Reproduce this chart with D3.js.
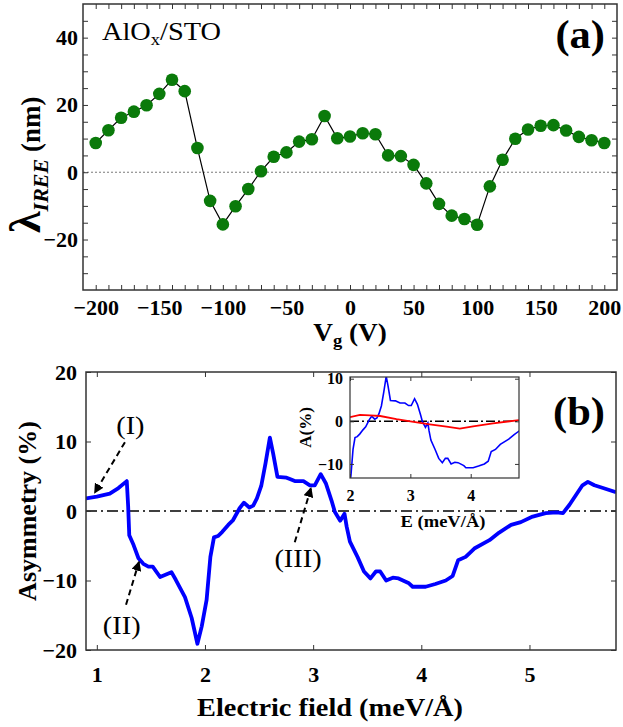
<!DOCTYPE html>
<html>
<head>
<meta charset="utf-8">
<script src="https://cdn.jsdelivr.net/npm/d3@7"></script>
<style>
  body { margin: 0; background: #fff; }
  text { font-family: "Liberation Serif", "Times New Roman", serif; }
  .tick text { font-weight: bold; fill: #000; }
  .domain { display: none; }
</style>
</head>
<body>
<div id="chart"></div>
<script>
// ---- panel (a): lambda_IREE vs gate voltage ----
const gateV = [-200, -190, -180, -170, -160, -150, -140, -130, -120, -110, -100, -90, -80, -70, -60, -50, -40, -30, -20, -10,
  0, 10, 20, 30, 40, 50, 60, 70, 80, 90, 100, 110, 120, 130, 140, 150, 160, 170, 180, 190, 200];
const lambdaIREE = [8.7, 12.5, 16.2, 18.0, 19.9, 23.3, 27.5, 24.1, 7.2, -8.5, -15.5, -10.1, -5.0, 0.3, 4.6, 5.9, 9.1, 9.8, 16.7, 10.1,
  10.6, 11.6, 11.3, 5.0, 4.8, 2.2, -3.3, -9.4, -12.9, -13.9, -15.6, -4.2, 3.7, 9.95, 12.7, 13.8, 14.0, 12.4, 10.5, 9.5, 8.7];
const aXTicks = [-200, -150, -100, -50, 0, 50, 100, 150, 200];
const aYTicks = [-20, 0, 20, 40];

// ---- panel (b): asymmetry vs electric field ----
const fieldE = [0.9, 1.0, 1.12, 1.2, 1.277, 1.29, 1.30, 1.34, 1.385, 1.43, 1.477, 1.517, 1.585, 1.69, 1.73, 1.815, 1.877, 1.93, 1.97, 2.015,
  2.05, 2.083, 2.12, 2.16, 2.215, 2.26, 2.32, 2.36, 2.41, 2.446, 2.48, 2.52, 2.56, 2.6, 2.63, 2.67, 2.754, 2.785, 2.83, 2.91,
  2.97, 3.015, 3.07, 3.117, 3.17, 3.2, 3.25, 3.29, 3.31, 3.34, 3.41, 3.47, 3.53, 3.58, 3.62, 3.675, 3.737, 3.79, 3.886, 3.92,
  4.04, 4.13, 4.226, 4.29, 4.34, 4.41, 4.49, 4.63, 4.72, 4.83, 4.92, 5.03, 5.15, 5.25, 5.31, 5.37, 5.43, 5.49, 5.54, 5.6, 5.68, 5.8];
const asym = [1.8, 2.06, 2.5, 3.3, 4.3, 0.6, -3.5, -4.9, -6.8, -7.6, -8.0, -8.0, -9.5, -8.8, -9.9, -12.4, -15.4, -19.1, -16.6, -12.8,
  -6.6, -3.8, -3.6, -3.0, -2.0, -1.3, 0.4, 1.2, 0.5, 0.77, 1.8, 3.6, 6.9, 10.55, 8.3, 4.9, 4.8, 4.6, 4.3, 4.3,
  3.7, 3.7, 5.3, 4.0, 1.5, -0.1, -1.4, -0.4, -2.25, -4.4, -6.6, -8.7, -9.7, -8.7, -8.7, -10.0, -9.6, -9.7, -10.4, -10.9,
  -10.9, -10.5, -10.0, -9.35, -7.1, -6.6, -5.4, -4.2, -3.1, -2.0, -1.6, -0.8, -0.3, -0.2, -0.3, 0.9, 2.3, 3.7, 4.2, 3.7, 3.3, 2.7];
const bXTicks = [1, 2, 3, 4, 5];
const bYTicks = [-20, -10, 0, 10, 20];

// inset: red curve (blue one reuses the main data)
const redE = [2.0, 2.165, 2.33, 2.5, 2.77, 3.0, 3.32, 3.6, 3.82, 4.04, 4.37, 4.8];
const redA = [1.0, 1.5, 1.4, 1.25, 0.5, 0, -0.7, -1.25, -1.7, -1.2, -0.5, 0.3];
const insetXTicks = [2, 3, 4];
const insetYTicks = [-10, 0, 10];

// arrow labels, in data units of panel (b)
const notes = [
  { label: "(I)", tx: 1.31, ty: 12.4, x1: 1.26, y1: 9.9, x2: 0.98, y2: 2.6 },
  { label: "(II)", tx: 1.23, ty: -16.4, x1: 1.27, y1: -13.5, x2: 1.39, y2: -7.3 },
  { label: "(III)", tx: 2.86, ty: -6.8, x1: 2.83, y1: -4.5, x2: 2.98, y2: 3.3 }
];

const width = 623;
const height = 727;
const sx = 1.09; // the original figure is a bit wider than tall

const svg = d3.select("#chart")
  .append("svg")
  .attr("width", width)
  .attr("height", height);

svg.append("defs")
  .append("marker")
  .attr("id", "arrow")
  .attr("viewBox", "0 0 10 10")
  .attr("refX", 9)
  .attr("refY", 5)
  .attr("markerWidth", 5)
  .attr("markerHeight", 5)
  .attr("orient", "auto")
  .append("path")
  .attr("d", "M0,0 L10,5 L0,10 Z")
  .attr("fill", "#000");

function label(g, x, y, size, bold) {
  return g.append("text")
    .attr("transform", `translate(${x},${y}) scale(${sx},1)`)
    .style("font-size", size + "px")
    .style("font-weight", bold ? "bold" : "normal");
}

// draws inside ticks on all four sides of a box
function frame(g, x, y, opts) {
  const [x0, x1] = x.range();
  const [y1, y0] = y.range();
  const ts = opts.tick || 5;
  const fs = opts.fontSize;

  const bottom = g.append("g").attr("transform", `translate(0,${y1})`)
    .call(d3.axisBottom(x).tickValues(opts.xTicks).tickSize(-ts).tickPadding(opts.xPad)
      .tickFormat(d3.format("d")));
  bottom.selectAll("text").style("font-size", fs + "px");
  g.append("g").attr("transform", `translate(0,${y0})`)
    .call(d3.axisTop(x).tickValues(opts.xTicks).tickSize(-ts).tickFormat(""));

  const left = g.append("g").attr("transform", `translate(${x0},0)`)
    .call(d3.axisLeft(y).tickValues(opts.yTicks).tickSize(-ts).tickPadding(opts.yPad)
      .tickFormat(d3.format("d")));
  left.selectAll("text").style("font-size", fs + "px");
  g.append("g").attr("transform", `translate(${x1},0)`)
    .call(d3.axisRight(y).tickValues(opts.yTicks).tickSize(-ts).tickFormat(""));

  if (opts.xMinor) {
    g.append("g").attr("transform", `translate(0,${y1})`)
      .call(d3.axisBottom(x).tickValues(opts.xMinor).tickSize(-ts).tickFormat(""));
    g.append("g").attr("transform", `translate(0,${y0})`)
      .call(d3.axisTop(x).tickValues(opts.xMinor).tickSize(-ts).tickFormat(""));
  }
  if (opts.yMinor) {
    g.append("g").attr("transform", `translate(${x0},0)`)
      .call(d3.axisLeft(y).tickValues(opts.yMinor).tickSize(-ts).tickFormat(""));
    g.append("g").attr("transform", `translate(${x1},0)`)
      .call(d3.axisRight(y).tickValues(opts.yMinor).tickSize(-ts).tickFormat(""));
  }
  g.selectAll(".tick line").attr("stroke", "#333").attr("stroke-width", 1);

  g.append("rect")
    .attr("x", x0).attr("y", y0)
    .attr("width", x1 - x0).attr("height", y1 - y0)
    .attr("fill", "none")
    .attr("stroke", "#333")
    .attr("stroke-width", opts.frameWidth || 1.5);
}

// ===== panel (a) =====
const ax = d3.scaleLinear().domain([-210, 210]).range([83, 617]);
const ay = d3.scaleLinear().domain([-35, 50]).range([290, 4]);
const ga = svg.append("g");

ga.append("line")
  .attr("x1", ax.range()[0]).attr("x2", ax.range()[1])
  .attr("y1", ay(0)).attr("y2", ay(0))
  .attr("stroke", "#555")
  .attr("stroke-width", 0.8)
  .attr("stroke-dasharray", "2,2");

const aPts = gateV.map((v, i) => ({ v: v, l: lambdaIREE[i] }));

ga.append("path")
  .datum(aPts)
  .attr("fill", "none")
  .attr("stroke", "#000")
  .attr("stroke-width", 1.2)
  .attr("d", d3.line().x((d) => ax(d.v)).y((d) => ay(d.l)));

ga.selectAll(".dot")
  .data(aPts)
  .join("circle")
  .attr("class", "dot")
  .attr("cx", (d) => ax(d.v))
  .attr("cy", (d) => ay(d.l))
  .attr("r", 6.3)
  .attr("fill", "#0a7a0a");

frame(ga, ax, ay, {
  xTicks: aXTicks, yTicks: aYTicks, fontSize: 22,
  xMinor: gateV.filter((v) => v % 50 !== 0),
  yMinor: [-30, -25, -15, -10, -5, 5, 10, 15, 25, 30, 35, 45],
  tick: 5, xPad: 9, yPad: 5
});

label(ga, 102, 40, 26, false)
  .html('AlO<tspan dy="5" style="font-size:17px">x</tspan><tspan dy="-5">/STO</tspan>');

label(ga, 605, 48, 39, true)
  .attr("text-anchor", "end")
  .text("(a)");

ga.append("text")
  .attr("transform", `translate(40,233) rotate(-90)`)
  .attr("text-anchor", "start")
  .style("font-weight", "bold")
  .html('<tspan style="font-size:44px">λ</tspan><tspan dy="8" style="font-size:22px;font-style:italic">IREE</tspan>'
    + '<tspan dy="-8" style="font-size:27px"> (nm)</tspan>');

label(ga, (ax.range()[0] + ax.range()[1]) / 2, 341, 25, true)
  .attr("text-anchor", "middle")
  .html('V<tspan dy="5" style="font-size:17px">g</tspan><tspan dy="-5"> (V)</tspan>');

// ===== panel (b) =====
const bx = d3.scaleLinear().domain([0.9, 5.8]).range([86, 616]);
const by = d3.scaleLinear().domain([-20, 20]).range([650, 372]);
const gb = svg.append("g");

gb.append("clipPath").attr("id", "clipB")
  .append("rect")
  .attr("x", 86).attr("y", 372)
  .attr("width", 530).attr("height", 278);

gb.append("line")
  .attr("x1", bx.range()[0]).attr("x2", bx.range()[1])
  .attr("y1", by(0)).attr("y2", by(0))
  .attr("stroke", "#000")
  .attr("stroke-width", 1.5)
  .attr("stroke-dasharray", "11,4,2,4");

const bPts = fieldE.map((e, i) => ({ e: e, a: asym[i] }));

gb.append("path")
  .datum(bPts)
  .attr("clip-path", "url(#clipB)")
  .attr("fill", "none")
  .attr("stroke", "#0000ff")
  .attr("stroke-width", 3.8)
  .attr("stroke-linejoin", "round")
  .attr("d", d3.line().x((d) => bx(d.e)).y((d) => by(d.a)));

frame(gb, bx, by, {
  xTicks: bXTicks, yTicks: bYTicks, fontSize: 22,
  tick: 5, xPad: 16, yPad: 9
});

gb.selectAll(".note-line")
  .data(notes)
  .join("line")
  .attr("class", "note-line")
  .attr("x1", (d) => bx(d.x1)).attr("y1", (d) => by(d.y1))
  .attr("x2", (d) => bx(d.x2)).attr("y2", (d) => by(d.y2))
  .attr("stroke", "#000")
  .attr("stroke-width", 2)
  .attr("stroke-dasharray", "6,4")
  .attr("marker-end", "url(#arrow)");

gb.selectAll(".note-text")
  .data(notes)
  .join("text")
  .attr("class", "note-text")
  .attr("transform", (d) => `translate(${bx(d.tx)},${by(d.ty)}) scale(${sx},1)`)
  .attr("dy", "0.35em")
  .attr("text-anchor", "middle")
  .style("font-size", "26px")
  .text((d) => d.label);

label(gb, 605, 425, 39, true)
  .attr("text-anchor", "end")
  .text("(b)");

gb.append("text")
  .attr("transform", `translate(36,${by(0)}) rotate(-90)`)
  .attr("text-anchor", "middle")
  .style("font-size", "26px")
  .style("font-weight", "bold")
  .text("Asymmetry (%)");

label(gb, 330, 716, 26, true)
  .attr("text-anchor", "middle")
  .text("Electric field (meV/Å)");

// ===== inset =====
const ix = d3.scaleLinear().domain([2, 4.8]).range([350, 519]);
const iy = d3.scaleLinear().domain([-13.3, 10.4]).range([478, 377]);
const gi = svg.append("g");

gi.append("rect")
  .attr("x", 350).attr("y", 377)
  .attr("width", 169).attr("height", 101)
  .attr("fill", "#fff");

gi.append("clipPath").attr("id", "clipI")
  .append("rect")
  .attr("x", 350).attr("y", 377)
  .attr("width", 169).attr("height", 101);

gi.append("line")
  .attr("x1", ix.range()[0]).attr("x2", ix.range()[1])
  .attr("y1", iy(0)).attr("y2", iy(0))
  .attr("stroke", "#000")
  .attr("stroke-width", 1.5)
  .attr("stroke-dasharray", "9,3,2,3");

gi.append("path")
  .datum(bPts)
  .attr("clip-path", "url(#clipI)")
  .attr("fill", "none")
  .attr("stroke", "#0000ff")
  .attr("stroke-width", 1.6)
  .attr("d", d3.line().x((d) => ix(d.e)).y((d) => iy(d.a)));

gi.append("path")
  .datum(redE.map((e, i) => ({ e: e, a: redA[i] })))
  .attr("clip-path", "url(#clipI)")
  .attr("fill", "none")
  .attr("stroke", "#ff0000")
  .attr("stroke-width", 1.8)
  .attr("d", d3.line().x((d) => ix(d.e)).y((d) => iy(d.a)));

frame(gi, ix, iy, {
  xTicks: insetXTicks, yTicks: insetYTicks, fontSize: 16,
  tick: 4, xPad: 12, yPad: 7, frameWidth: 1.2
});

gi.append("text")
  .attr("transform", `translate(311,${(iy.range()[0] + iy.range()[1]) / 2}) rotate(-90)`)
  .attr("text-anchor", "middle")
  .style("font-size", "17px")
  .style("font-weight", "bold")
  .text("A(%)");

label(gi, 443, 527, 17, true)
  .attr("text-anchor", "middle")
  .text("E (meV/Å)");
</script>
</body>
</html>
